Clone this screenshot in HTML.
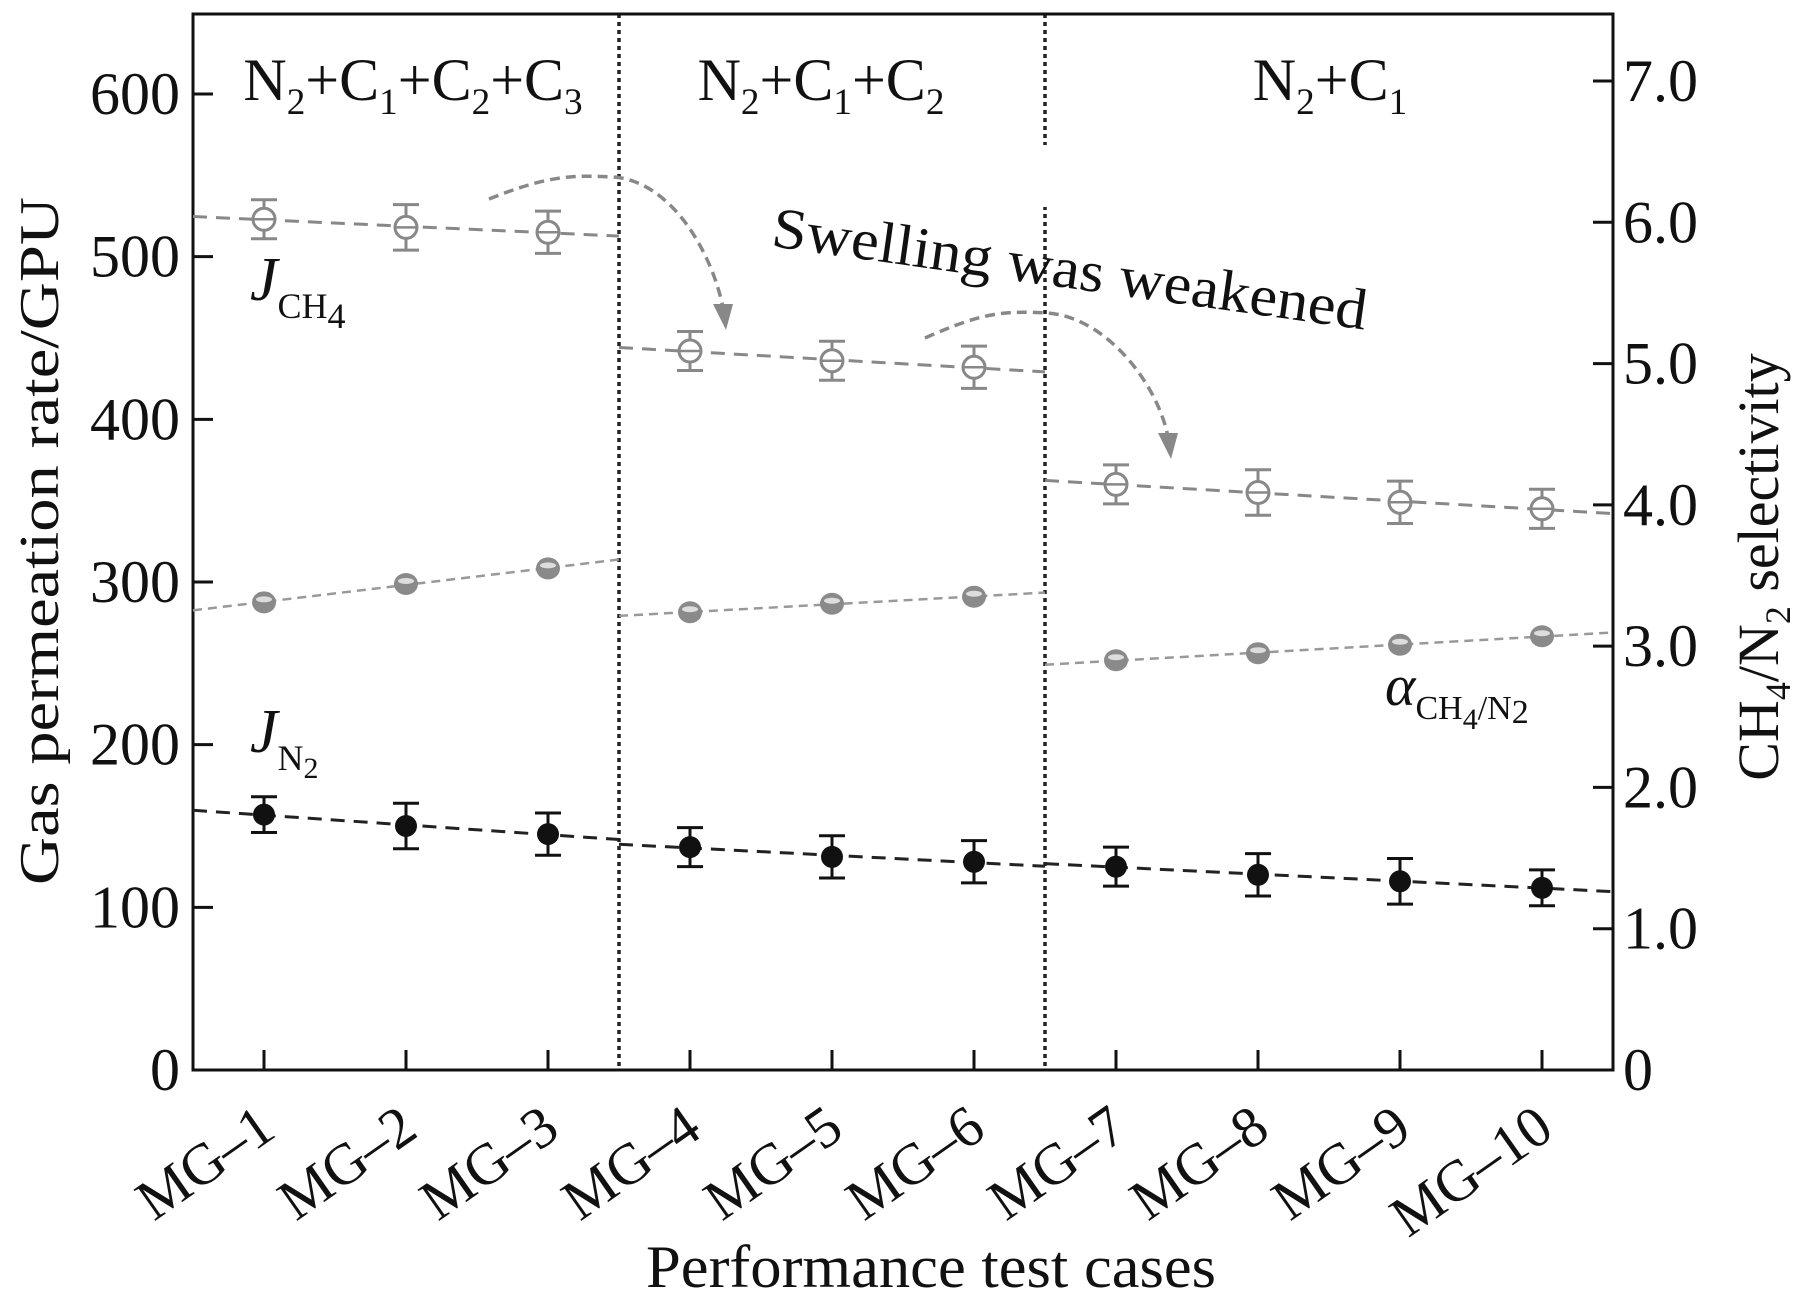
<!DOCTYPE html>
<html><head><meta charset="utf-8"><style>
body{margin:0;background:#fff}
svg text{font-family:"Liberation Serif",serif;fill:#111}
</style></head><body>
<svg id="chart" width="1804" height="1302" viewBox="0 0 1804 1302" xmlns="http://www.w3.org/2000/svg"></svg>
<script>
const categories=["MG\u20131","MG\u20132","MG\u20133","MG\u20134","MG\u20135","MG\u20136","MG\u20137","MG\u20138","MG\u20139","MG\u201310"];
const jCH4=[523,518,515,442,436,432,360,355,349,345];
const jCH4Err=[12,14,13,12,12,13,12,14,13,12];
const jN2=[157,150,145,137,131,128,125,120,116,112];
const jN2Err=[11,14,13,12,13,13,12,13,14,11];
const selectivity=[3.31,3.44,3.55,3.24,3.30,3.35,2.90,2.95,3.01,3.07];
const leftTicks=[0,100,200,300,400,500,600];
const rightTicks=["0","1.0","2.0","3.0","4.0","5.0","6.0","7.0"];
const groups=[[0,2],[3,5],[6,9]];
const groupLabels=[["N","2","+C","1","+C","2","+C","3"],["N","2","+C","1","+C","2"],["N","2","+C","1"]];

const NS="http://www.w3.org/2000/svg";
const svg=document.getElementById('chart');
const L=193,R=1613,T=14,B=1070;
const X=i=>L+(i+0.5)*(R-L)/10;
const YL=v=>B-v*(B-94)/600;
const YR=v=>B-v*(B-81)/7;
function el(tag,attrs,parent){const e=document.createElementNS(NS,tag);for(const k in attrs)e.setAttribute(k,attrs[k]);(parent||svg).appendChild(e);return e;}

// dividers
[2.5,5.5].forEach((d,k)=>{
  const l=el('line',{x1:X(d),x2:X(d),y1:T,y2:B,stroke:'#222','stroke-width':3.5,'stroke-dasharray':'4 4'});
  
  
});
el('rect',{x:X(5.5)-4,y:145,width:8,height:62,fill:'#fff'});

// axes
const frame=el('rect',{x:L,y:T,width:R-L,height:B-T,fill:'none',stroke:'#111','stroke-width':3});


leftTicks.forEach(v=>{
  el('line',{x1:L,x2:L+20,y1:YL(v),y2:YL(v),stroke:'#111','stroke-width':3});
  const t=el('text',{x:180,y:YL(v)+20,'text-anchor':'end','font-size':60});t.textContent=v;
  
  
});
rightTicks.forEach((s,i)=>{
  el('line',{x1:R-20,x2:R,y1:YR(i),y2:YR(i),stroke:'#111','stroke-width':3});
  const t=el('text',{x:R+10,y:YR(i)+20,'font-size':60});t.textContent=s;
  
  
});
categories.forEach((c,i)=>{
  el('line',{x1:X(i),x2:X(i),y1:B,y2:B-20,stroke:'#111','stroke-width':3});
  const t=el('text',{x:X(i)+14,y:1135,'text-anchor':'end','font-size':58,transform:`rotate(-35 ${X(i)+14} 1135)`});t.textContent=c;
  
  
});

// fit lines per group
function fitLine(arr,Y,g,color,dash,w){
  const [a,b]=g;let n=b-a+1,sx=0,sy=0,sxx=0,sxy=0;
  for(let i=a;i<=b;i++){sx+=i;sy+=arr[i];sxx+=i*i;sxy+=i*arr[i];}
  const m=(n*sxy-sx*sy)/(n*sxx-sx*sx),c=(sy-m*sx)/n;
  const x0=a-0.5,x1=b+0.5;
  const l=el('line',{x1:X(x0),x2:X(x1),y1:Y(m*x0+c),y2:Y(m*x1+c),stroke:color,'stroke-width':w,'stroke-dasharray':dash});
  
  
}
groups.forEach(g=>{fitLine(jCH4,YL,g,'#888','14 9',3);fitLine(selectivity,YR,g,'#999','9 6',2.5);fitLine(jN2,YL,g,'#222','14 9',3);});

// error bars + markers
function errBar(x,y1,y2,color){
  el('line',{x1:x,x2:x,y1:y1,y2:y2,stroke:color,'stroke-width':3});
  el('line',{x1:x-13,x2:x+13,y1:y1,y2:y1,stroke:color,'stroke-width':3});
  el('line',{x1:x-13,x2:x+13,y1:y2,y2:y2,stroke:color,'stroke-width':3});
}
jCH4.forEach((v,i)=>{
  errBar(X(i),YL(v+jCH4Err[i]),YL(v-jCH4Err[i]),'#888');
  const c=el('circle',{cx:X(i),cy:YL(v),r:11,fill:'#fff',stroke:'#888','stroke-width':3});
  
  
  el('line',{x1:X(i)-11,x2:X(i)+11,y1:YL(v),y2:YL(v),stroke:'#888','stroke-width':2.5});
});
selectivity.forEach((v,i)=>{
  const c=el('ellipse',{cx:X(i),cy:YR(v),rx:12,ry:11,fill:'#8a8a8a'});
  
  
  el('ellipse',{cx:X(i),cy:YR(v)-3,rx:8,ry:3,fill:'#ddd'});
});
jN2.forEach((v,i)=>{
  errBar(X(i),YL(v+jN2Err[i]),YL(v-jN2Err[i]),'#111');
  const c=el('circle',{cx:X(i),cy:YL(v),r:11,fill:'#111'});
  
  
});

// arrows
function arrow(p0,p1,p2){
  const a=el('path',{d:`M${p0[0]},${p0[1]} C${p0[0]+60},${p1[1]-2} ${p1[0]-40},${p1[1]-2} ${p1[0]},${p1[1]} C${p1[0]+60},${p1[1]+4} ${p2[0]-12},${p2[1]-70} ${p2[0]-2},${p2[1]-18}`,fill:'none',stroke:'#888','stroke-width':3.5,'stroke-dasharray':'10 6'});
  
  
  el('polygon',{points:`${p2[0]-12},${p2[1]-22} ${p2[0]+8},${p2[1]-22} ${p2[0]+1},${p2[1]+4}`,fill:'#888'});
}
arrow([489,199],[613,177],[725,326]);
arrow([925,338],[1047,313],[1170,455]);

// texts
function rich(x,y,parts,size,anchor,name){
  const t=el('text',{x:x,y:y,'font-size':size,'text-anchor':anchor||'middle'});
  parts.forEach((p,k)=>{const s=el('tspan',{},t);s.textContent=p;if(k%2==1){s.setAttribute('font-size',size*0.62);s.setAttribute('dy',14);}else if(k>0){s.setAttribute('dy',-14);}});
  
  
  return t;
}
rich(413,100,groupLabels[0],60,'middle','group-label-1');
rich(821,100,groupLabels[1],60,'middle','group-label-2');
rich(1330,100,groupLabels[2],60,'middle','group-label-3');
</script>
<svg style="position:absolute;left:0;top:0" width="1804" height="1302">
<text x="1070" y="288" text-anchor="middle" font-size="58" font-family="Liberation Serif,serif" fill="#111" textLength="600" lengthAdjust="spacingAndGlyphs" transform="rotate(8 1070 268)">Swelling was weakened</text>
<text x="250" y="300" font-size="62" font-style="italic" font-family="Liberation Serif,serif" fill="#111">J<tspan font-size="36" font-style="normal" dy="18">CH</tspan><tspan font-size="36" font-style="normal" dy="10">4</tspan></text>
<text x="250" y="752" font-size="62" font-style="italic" font-family="Liberation Serif,serif" fill="#111">J<tspan font-size="36" font-style="normal" dy="18">N</tspan><tspan font-size="30" font-style="normal" dy="8">2</tspan></text>
<text x="1385" y="705" font-size="58" font-style="italic" font-family="Liberation Serif,serif" fill="#111">α<tspan font-size="34" font-style="normal" dy="14">CH</tspan><tspan font-size="30" font-style="normal" dy="10">4</tspan><tspan font-size="34" font-style="normal" dy="-10">/N</tspan><tspan font-size="34" font-style="normal" dy="4">2</tspan></text>
<text x="0" y="0" transform="translate(58 541) rotate(-90)" text-anchor="middle" font-size="56" textLength="688" lengthAdjust="spacingAndGlyphs" font-family="Liberation Serif,serif" fill="#111">Gas permeation rate/GPU</text>
<text x="0" y="0" transform="translate(1778 567) rotate(-90)" text-anchor="middle" font-size="58" font-family="Liberation Serif,serif" fill="#111">CH<tspan font-size="36" dy="12">4</tspan><tspan dy="-12">/N</tspan><tspan font-size="36" dy="12">2</tspan><tspan dy="-12"> selectivity</tspan></text>
<text x="931" y="1287" text-anchor="middle" font-size="60" textLength="570" lengthAdjust="spacingAndGlyphs" font-family="Liberation Serif,serif" fill="#111">Performance test cases</text>
</svg>
</body></html>
